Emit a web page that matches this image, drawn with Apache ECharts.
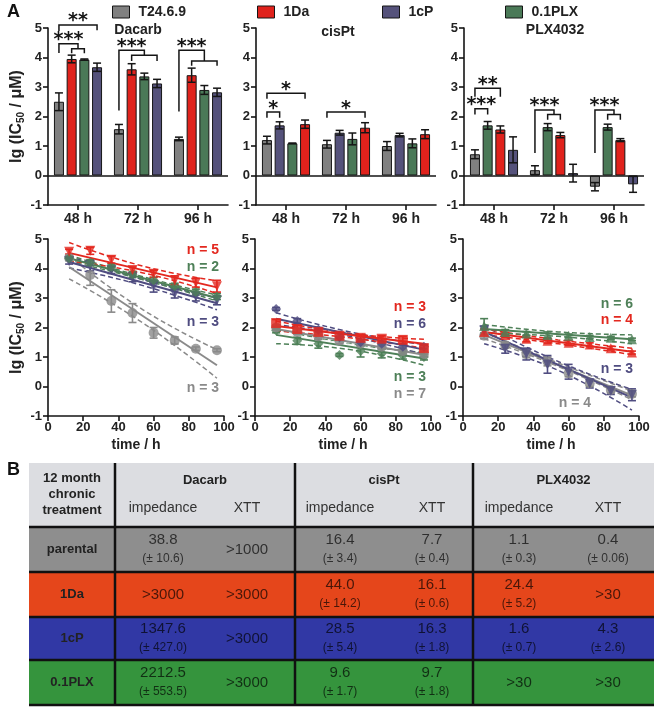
<!DOCTYPE html>
<html>
<head>
<meta charset="utf-8">
<title>IC50 of chronically treated T24.6.9 lines</title>
<script src="https://cdn.jsdelivr.net/npm/echarts@6/dist/echarts.min.js"></script>
<style>
  html, body { margin: 0; padding: 0; background: #fff; }
  #chart { width: 656px; height: 709px; }
</style>
</head>
<body>
<div id="chart"></div>
<script>
// ---- data -------------------------------------------------------------
const cellLines = ['T24.6.9', '1Da', '1cP', '0.1PLX']
const drugs = ['Dacarb', 'cisPt', 'PLX4032']
const hours = ['48 h', '72 h', '96 h']
const yTicks = [-1, 5, 1]          // min, max, step of every lg(IC50) axis
const timeTicks = [0, 100, 20]     // min, max, step of the time axes

// bar panels: bar order inside each group differs per drug
const dacarbOrder = ['T24.6.9', '1Da', '0.1PLX', '1cP']
const dacarbMean = [[2.5, 1.57, 1.24], [3.95, 3.6, 3.4], [3.93, 3.36, 2.9], [3.67, 3.12, 2.82]]
const dacarbErr = [[0.3, 0.16, 0.06], [0.13, 0.19, 0.24], [0.02, 0.11, 0.15], [0.14, 0.14, 0.14]]

const cisOrder = ['T24.6.9', '1cP', '0.1PLX', '1Da']
const cisMean = [[1.2, 1.06, 1.0], [1.7, 1.45, 1.37], [1.09, 1.24, 1.09], [1.74, 1.62, 1.4]]
const cisErr = [[0.13, 0.13, 0.15], [0.12, 0.08, 0.06], [0.01, 0.2, 0.15], [0.14, 0.17, 0.15]]

const plxOrder = ['T24.6.9', '0.1PLX', '1Da', '1cP']
const plxMean = [[0.72, 0.18, -0.38], [1.7, 1.64, 1.64], [1.56, 1.37, 1.2], [0.87, 0.08, -0.3]]
const plxErr = [[0.15, 0.15, 0.14], [0.13, 0.12, 0.1], [0.12, 0.09, 0.05], [0.44, 0.3, 0.27]]

// significance brackets: [group, left bar, right bar, top, left leg end, right leg end, label]
const dacarbBrackets = [
  [0, 0, 3, 5.1, 4.9, 4.92, '**'],
  [0, 0, 1.5, 4.47, 4.15, 4.3, '***'],
  [0, 1, 2, 4.3, 4.14, 4.14, ''],
  [1, 0, 2, 4.25, 2.2, 4.08, '***'],
  [1, 1, 3, 4.08, 3.88, 3.88, ''],
  [2, 0, 2, 4.25, 2.17, 3.88, '***'],
  [2, 1, 3, 3.88, 3.72, 3.72, '']
]
const cisBrackets = [
  [0, 0, 1, 2.15, 1.96, 1.96, '*'],
  [0, 0, 3, 2.79, 2.6, 2.6, '*'],
  [1, 0, 3, 2.15, 1.96, 1.96, '*']
]
const plxBrackets = [
  [0, 0, 2, 2.96, 2.67, 2.67, '**'],
  [0, 0, 1, 2.26, 2.07, 2.07, '***'],
  [1, 0, 1.5, 2.22, 0.76, 2.07, '***'],
  [1, 1, 2, 2.07, 1.89, 1.89, ''],
  [2, 0, 1.5, 2.22, 0.76, 2.07, '***'],
  [2, 1, 2, 2.07, 1.89, 1.89, '']
]

// time course panels (rows follow cellLines order)
const times = [12, 24, 36, 48, 60, 72, 84, 96]
const fitTimes = [12, 96]
const bandTimes = [12, 54, 96]

const dacLineMean = [
  [4.36, 3.78, 2.9, 2.49, 1.82, 1.56, 1.28, 1.23],
  [4.57, 4.6, 4.3, 3.95, 3.82, 3.6, 3.52, 3.4],
  [4.25, 4.1, 3.95, 3.7, 3.4, 3.15, 3.05, 2.92],
  [4.35, 4.2, 4.05, 3.8, 3.6, 3.4, 3.2, 3.05]
]
const dacLineErr = [
  [0.05, 0.35, 0.38, 0.32, 0.18, 0.12, 0.06, 0.05],
  [0.08, 0.12, 0.12, 0.1, 0.12, 0.15, 0.15, 0.2],
  [0.1, 0.18, 0.12, 0.15, 0.2, 0.15, 0.15, 0.15],
  [0.08, 0.1, 0.1, 0.1, 0.1, 0.1, 0.1, 0.1]
]
const dacFit = [[4.05, 0.72], [4.53, 3.36], [4.22, 2.82], [4.35, 3.0]]
const dacUpper = [[4.42, 2.6, 1.25], [4.88, 4.08, 3.58], [4.42, 3.62, 3.0], [4.45, 3.72, 3.1]]
const dacLower = [[3.65, 2.15, 0.28], [4.25, 3.85, 3.15], [4.02, 3.42, 2.6], [4.25, 3.62, 2.9]]
const dacN = [3, 5, 3, 2]

const cisLineMean = [
  [2.0, 1.85, 1.7, 1.55, 1.45, 1.35, 1.2, 1.1],
  [2.15, 1.95, 1.85, 1.72, 1.65, 1.62, 1.58, 1.3],
  [2.63, 2.22, 1.92, 1.68, 1.5, 1.45, 1.35, 1.35],
  [1.9, 1.55, 1.45, 1.07, 1.2, 1.12, 1.05, 1.0]
]
const cisLineErr = [
  [0.08, 0.08, 0.1, 0.1, 0.08, 0.08, 0.08, 0.08],
  [0.12, 0.12, 0.1, 0.1, 0.1, 0.1, 0.12, 0.1],
  [0.05, 0.08, 0.08, 0.12, 0.1, 0.08, 0.08, 0.08],
  [0.08, 0.12, 0.15, 0.05, 0.2, 0.15, 0.12, 0.1]
]
const cisFit = [[1.95, 1.08], [2.05, 1.45], [2.3, 1.25], [1.75, 0.95]]
const cisUpper = [[2.08, 1.6, 1.2], [2.22, 1.8, 1.6], [2.5, 1.85, 1.42], [1.95, 1.45, 1.15]]
const cisLower = [[1.82, 1.42, 0.95], [1.88, 1.65, 1.3], [2.1, 1.7, 1.08], [1.45, 1.25, 0.72]]
const cisN = [7, 3, 6, 3]

const plxLineMean = [
  [1.72, 1.4, 1.1, 0.85, 0.45, 0.1, -0.12, -0.25],
  [1.85, 1.75, 1.62, 1.55, 1.48, 1.42, 1.3, 1.15],
  [1.9, 1.28, 1.1, 0.75, 0.5, 0.1, -0.15, -0.28],
  [2.05, 1.85, 1.8, 1.75, 1.72, 1.68, 1.65, 1.6]
]
const plxLineErr = [
  [0.1, 0.1, 0.12, 0.15, 0.12, 0.1, 0.1, 0.1],
  [0.1, 0.08, 0.1, 0.08, 0.08, 0.06, 0.06, 0.05],
  [0.15, 0.15, 0.2, 0.3, 0.25, 0.15, 0.12, 0.2],
  [0.25, 0.08, 0.06, 0.1, 0.06, 0.05, 0.05, 0.04]
]
const plxFit = [[1.75, -0.3], [1.85, 1.18], [1.85, -0.38], [1.95, 1.6]]
const plxUpper = [[1.85, 0.8, -0.15], [1.95, 1.58, 1.3], [2.05, 0.85, -0.1], [2.1, 1.85, 1.75]]
const plxLower = [[1.62, 0.68, -0.45], [1.75, 1.45, 1.08], [1.45, 0.55, -0.8], [1.82, 1.7, 1.45]]
const plxN = [4, 4, 3, 6]

// table B
const tableRows = ['parental', '1Da', '1cP', '0.1PLX']
const tableHead = ['12 month', 'chronic', 'treatment']
const tableSub = ['impedance', 'XTT']
const impVal = [['38.8', '16.4', '1.1'], ['>3000', '44.0', '24.4'], ['1347.6', '28.5', '1.6'], ['2212.5', '9.6', '>30']]
const impSd = [['10.6', '3.4', '0.3'], ['', '14.2', '5.2'], ['427.0', '5.4', '0.7'], ['553.5', '1.7', '']]
const xttVal = [['>1000', '7.7', '0.4'], ['>3000', '16.1', '>30'], ['>3000', '16.3', '4.3'], ['>3000', '9.7', '>30']]
const xttSd = [['', '0.4', '0.06'], ['', '0.6', ''], ['', '1.8', '2.6'], ['', '1.8', '']]

// ---- styles ------------------------------------------------------------
const FONT = '"Liberation Sans", Arial, sans-serif'
const INK = '#151515'
const barColor = { 'T24.6.9': '#808080', '1Da': '#e0221c', '1cP': '#55527b', '0.1PLX': '#4a7957' }
const lineColor = { 'T24.6.9': '#8a8a8a', '1Da': '#e3281f', '1cP': '#4f4c80', '0.1PLX': '#4e8058' }
const BAR_W = 10
const BAR_STEP = 12.7   // bar width + gap in px

const barGrids = [
  { left: 48, top: 28, width: 180, height: 177 },
  { left: 256, top: 28, width: 180, height: 177 },
  { left: 464, top: 28, width: 180, height: 177 }
]
const lineGrids = [
  { left: 48, top: 239, width: 176, height: 177 },
  { left: 255, top: 239, width: 176, height: 177 },
  { left: 463, top: 239, width: 176, height: 177 }
]

const symbols = [
  // per panel, cellLines order: [symbol, rotate]
  [['circle', 0], ['triangle', 180], ['triangle', 180], ['diamond', 0]],
  [['circle', 0], ['rect', 0], ['diamond', 0], ['diamond', 0]],
  [['circle', 0], ['triangle', 0], ['triangle', 180], ['triangle', 0]]
]
const nLabelPos = [
  [[219, 388], [219, 250], [219, 322], [219, 267]],
  [[426, 394], [426, 307], [426, 324], [426, 377]],
  [[591, 403], [633, 320], [633, 369], [633, 304]]
]

const axisLine = { show: true, onZero: false, lineStyle: { color: INK, width: 1.6 } }
const axisTick = { show: true, length: 5, lineStyle: { color: INK, width: 1.6 } }
const tickFont = { color: '#222', fontFamily: FONT, fontWeight: 'bold', fontSize: 13 }

// ---- axes --------------------------------------------------------------
const grids = barGrids.concat(lineGrids)
const xAxes = []
const yAxes = []
grids.forEach((g, i) => {
  const isBar = i < 3
  xAxes.push(isBar ? {
    type: 'category', gridIndex: i, data: hours,
    axisLine, axisTick: { ...axisTick, alignWithLabel: true },
    axisLabel: { ...tickFont, fontSize: 14, margin: 7 }
  } : {
    type: 'value', gridIndex: i, min: timeTicks[0], max: timeTicks[1], interval: timeTicks[2],
    axisLine, axisTick, splitLine: { show: false },
    axisLabel: { ...tickFont, margin: 5 },
    name: 'time / h', nameLocation: 'middle', nameGap: 22,
    nameTextStyle: { ...tickFont, fontSize: 14 }
  })
  const y = {
    type: 'value', gridIndex: i, min: yTicks[0], max: yTicks[1], interval: yTicks[2],
    axisLine, axisTick, splitLine: { show: false },
    axisLabel: { ...tickFont, margin: 6 }
  }
  if (i === 0 || i === 3) {
    y.name = 'lg (IC{sub|50} / μM)'
    y.nameLocation = 'middle'
    y.nameGap = 22
    y.nameTextStyle = {
      ...tickFont, fontSize: 16,
      rich: { sub: { fontFamily: FONT, fontWeight: 'bold', fontSize: 10, color: '#222', padding: [8, 0, 0, 0] } }
    }
  }
  yAxes.push(y)
})

// ---- series builders ---------------------------------------------------
function barSeries (p, order, means) {
  return order.map((name, b) => ({
    name, type: 'bar', xAxisIndex: p, yAxisIndex: p,
    barWidth: BAR_W, barGap: '27%',
    itemStyle: { color: barColor[name], borderColor: INK, borderWidth: 1 },
    data: means[b],
    markLine: b === 0 ? {
      silent: true, symbol: 'none', label: { show: false },
      lineStyle: { color: INK, width: 1.6, type: 'solid' },
      data: [{ yAxis: 0 }]
    } : undefined
  }))
}

function barErrors (p, means, errs) {
  const data = []
  means.forEach((row, b) => row.forEach((m, g) => data.push([g, b, m, errs[b][g]])))
  return {
    type: 'custom', xAxisIndex: p, yAxisIndex: p, z: 5, silent: true,
    encode: { x: 0, y: 2 }, data,
    renderItem (params, api) {
      const g = api.value(0), b = api.value(1), m = api.value(2), e = api.value(3)
      const x = api.coord([g, 0])[0] + (b - 1.5) * BAR_STEP
      const y1 = api.coord([g, m + e])[1]
      const y2 = api.coord([g, m - e])[1]
      const st = { stroke: INK, lineWidth: 1.5 }
      return {
        type: 'group', children: [
          { type: 'line', shape: { x1: x, y1, x2: x, y2 }, style: st },
          { type: 'line', shape: { x1: x - 4, y1, x2: x + 4, y2: y1 }, style: st },
          { type: 'line', shape: { x1: x - 4, y1: y2, x2: x + 4, y2 }, style: st }
        ]
      }
    }
  }
}

function brackets (p, list) {
  return {
    type: 'custom', xAxisIndex: p, yAxisIndex: p, z: 6, silent: true,
    encode: { x: 0, y: 3 },
    data: list.map(b => b.slice(0, 6)),
    renderItem (params, api) {
      const g = api.value(0)
      const cx = api.coord([g, 0])[0]
      const px = v => cx + (v - 1.5) * BAR_STEP
      const py = v => api.coord([g, v])[1]
      const xl = px(api.value(1)), xr = px(api.value(2))
      const yt = py(api.value(3))
      return {
        type: 'group', children: [
          {
            type: 'polyline',
            shape: { points: [[xl, py(api.value(4))], [xl, yt], [xr, yt], [xr, py(api.value(5))]] },
            style: { stroke: INK, lineWidth: 1.5, fill: 'none' }
          },
          {
            type: 'text',
            style: {
              text: list[params.dataIndex][6], x: (xl + xr) / 2, y: yt + 6,
              textAlign: 'center', align: 'center', textVerticalAlign: 'bottom', verticalAlign: 'bottom',
              font: 'bold 19px "DejaVu Sans"', fill: INK
            }
          }
        ]
      }
    }
  }
}

function timeCourse (p, means, errs, fits, uppers, lowers, drawOrder, bandColorOverride) {
  const ax = p + 3
  const out = []
  drawOrder.forEach(k => {
    const name = cellLines[k]
    const c = lineColor[name]
    const bandC = (bandColorOverride && bandColorOverride[k]) || c
    const dash = { color: bandC, width: 1.5, type: [5, 3] }
    out.push({
      type: 'line', xAxisIndex: ax, yAxisIndex: ax, showSymbol: false, silent: true, smooth: true, z: 2,
      lineStyle: dash, data: bandTimes.map((t, i) => [t, uppers[k][i]])
    })
    out.push({
      type: 'line', xAxisIndex: ax, yAxisIndex: ax, showSymbol: false, silent: true, smooth: true, z: 2,
      lineStyle: dash, data: bandTimes.map((t, i) => [t, lowers[k][i]])
    })
    out.push({
      type: 'line', xAxisIndex: ax, yAxisIndex: ax, showSymbol: false, silent: true, z: 3,
      lineStyle: { color: c, width: 2 }, data: fitTimes.map((t, i) => [t, fits[k][i]])
    })
    out.push({
      type: 'custom', xAxisIndex: ax, yAxisIndex: ax, silent: true, z: 4,
      encode: { x: 0, y: 1 },
      data: times.map((t, i) => [t, means[k][i], errs[k][i]]),
      renderItem (params, api) {
        const t = api.value(0), m = api.value(1), e = api.value(2)
        const x = api.coord([t, m])[0]
        const y1 = api.coord([t, m + e])[1]
        const y2 = api.coord([t, m - e])[1]
        const st = { stroke: c, lineWidth: 1.6 }
        return {
          type: 'group', children: [
            { type: 'line', shape: { x1: x, y1, x2: x, y2 }, style: st },
            { type: 'line', shape: { x1: x - 4, y1, x2: x + 4, y2: y1 }, style: st },
            { type: 'line', shape: { x1: x - 4, y1: y2, x2: x + 4, y2 }, style: st }
          ]
        }
      }
    })
    out.push({
      type: 'scatter', xAxisIndex: ax, yAxisIndex: ax, silent: true, z: 5,
      symbol: symbols[p][k][0], symbolRotate: symbols[p][k][1], symbolSize: 10,
      itemStyle: { color: c },
      data: times.map((t, i) => [t, means[k][i]])
    })
  })
  return out
}

// ---- graphic: titles, labels, table -----------------------------------
const graphic = []
function txt (x, y, text, font, fill, align) {
  graphic.push({
    type: 'text', x, y, silent: true,
    style: {
      text, font, fill: fill || '#222',
      textAlign: align || 'center', align: align || 'center',
      textVerticalAlign: 'middle', verticalAlign: 'middle'
    }
  })
}
txt(7, 12, 'A', 'bold 18px ' + FONT, '#111', 'left')
txt(7, 470, 'B', 'bold 18px ' + FONT, '#111', 'left')
const titlePos = [[138, 30], [338, 32], [555, 30]]
drugs.forEach((d, i) => txt(titlePos[i][0], titlePos[i][1], d, 'bold 14px ' + FONT, '#222'))

const nCounts = [dacN, cisN, plxN]
nCounts.forEach((arr, p) => arr.forEach((n, k) => {
  txt(nLabelPos[p][k][0], nLabelPos[p][k][1], 'n = ' + n, 'bold 14px ' + FONT, lineColor[cellLines[k]], 'right')
}))

// table geometry
const rowEdges = [463, 527, 572, 617, 660, 705]
const colEdges = [29, 115, 295, 473, 654]
const subCols = [[163, 247], [340, 432], [519, 608]]
const rowFill = ['#dcdde1', '#8e8e8e', '#e5461b', '#3138a5', '#35943d']
rowFill.forEach((f, r) => graphic.push({
  type: 'rect', silent: true,
  shape: { x: colEdges[0], y: rowEdges[r], width: colEdges[4] - colEdges[0], height: rowEdges[r + 1] - rowEdges[r] },
  style: { fill: f }
}))
tableHead.forEach((t, i) => txt(72, 478 + i * 16, t, 'bold 13px ' + FONT, '#222'))
drugs.forEach((d, j) => {
  const cx = (colEdges[j + 1] + colEdges[j + 2]) / 2
  txt(cx, 480, d, 'bold 13px ' + FONT, '#222')
  tableSub.forEach((s, k) => txt(subCols[j][k], 508, s, '14px ' + FONT, '#333'))
})
tableRows.forEach((name, r) => {
  const mid = (rowEdges[r + 1] + rowEdges[r + 2]) / 2
  txt(72, mid, name, 'bold 13px ' + FONT, '#222')
  drugs.forEach((d, j) => {
    const cells = [[impVal[r][j], impSd[r][j]], [xttVal[r][j], xttSd[r][j]]]
    cells.forEach(([v, sd], k) => {
      const x = subCols[j][k]
      const col = 'rgba(0,0,0,0.68)'
      if (sd) {
        txt(x, mid - 10, v, '15px ' + FONT, col)
        txt(x, mid + 9, '(± ' + sd + ')', '12px ' + FONT, col)
      } else {
        txt(x, mid, v, '15px ' + FONT, col)
      }
    })
  })
})
rowEdges.slice(1).forEach(y => graphic.push({
  type: 'line', silent: true,
  shape: { x1: colEdges[0], y1: y, x2: colEdges[4], y2: y },
  style: { stroke: '#111', lineWidth: 2.5 }
}))
colEdges.slice(1, 4).forEach(x => graphic.push({
  type: 'line', silent: true,
  shape: { x1: x, y1: rowEdges[0], x2: x, y2: rowEdges[5] },
  style: { stroke: '#111', lineWidth: 2.5 }
}))

// ---- legend --------------------------------------------------------------
const legendLeft = [112, 257, 382, 505]
const legends = cellLines.map((name, i) => ({
  data: [name], left: legendLeft[i], top: 5, padding: 0,
  icon: 'rect', itemWidth: 17, itemHeight: 12, selectedMode: false,
  itemStyle: { borderColor: INK, borderWidth: 1 },
  textStyle: { fontFamily: FONT, fontWeight: 'bold', fontSize: 14, color: '#222', padding: [0, 0, 0, 4] }
}))

// ---- assemble --------------------------------------------------------------
const series = [
  ...barSeries(0, dacarbOrder, dacarbMean),
  ...barSeries(1, cisOrder, cisMean),
  ...barSeries(2, plxOrder, plxMean),
  barErrors(0, dacarbMean, dacarbErr),
  barErrors(1, cisMean, cisErr),
  barErrors(2, plxMean, plxErr),
  brackets(0, dacarbBrackets),
  brackets(1, cisBrackets),
  brackets(2, plxBrackets),
  ...timeCourse(0, dacLineMean, dacLineErr, dacFit, dacUpper, dacLower, [0, 2, 3, 1]),
  ...timeCourse(1, cisLineMean, cisLineErr, cisFit, cisUpper, cisLower, [3, 0, 2, 1], { 0: '#f4f4f4' }),
  ...timeCourse(2, plxLineMean, plxLineErr, plxFit, plxUpper, plxLower, [0, 2, 1, 3])
]

const chart = echarts.init(document.getElementById('chart'), null, { renderer: 'canvas' })
chart.setOption({
  animation: false,
  backgroundColor: '#fff',
  textStyle: { fontFamily: FONT },
  legend: legends,
  grid: grids,
  xAxis: xAxes,
  yAxis: yAxes,
  series,
  graphic
})
window.addEventListener('resize', () => chart.resize())
</script>
</body>
</html>
